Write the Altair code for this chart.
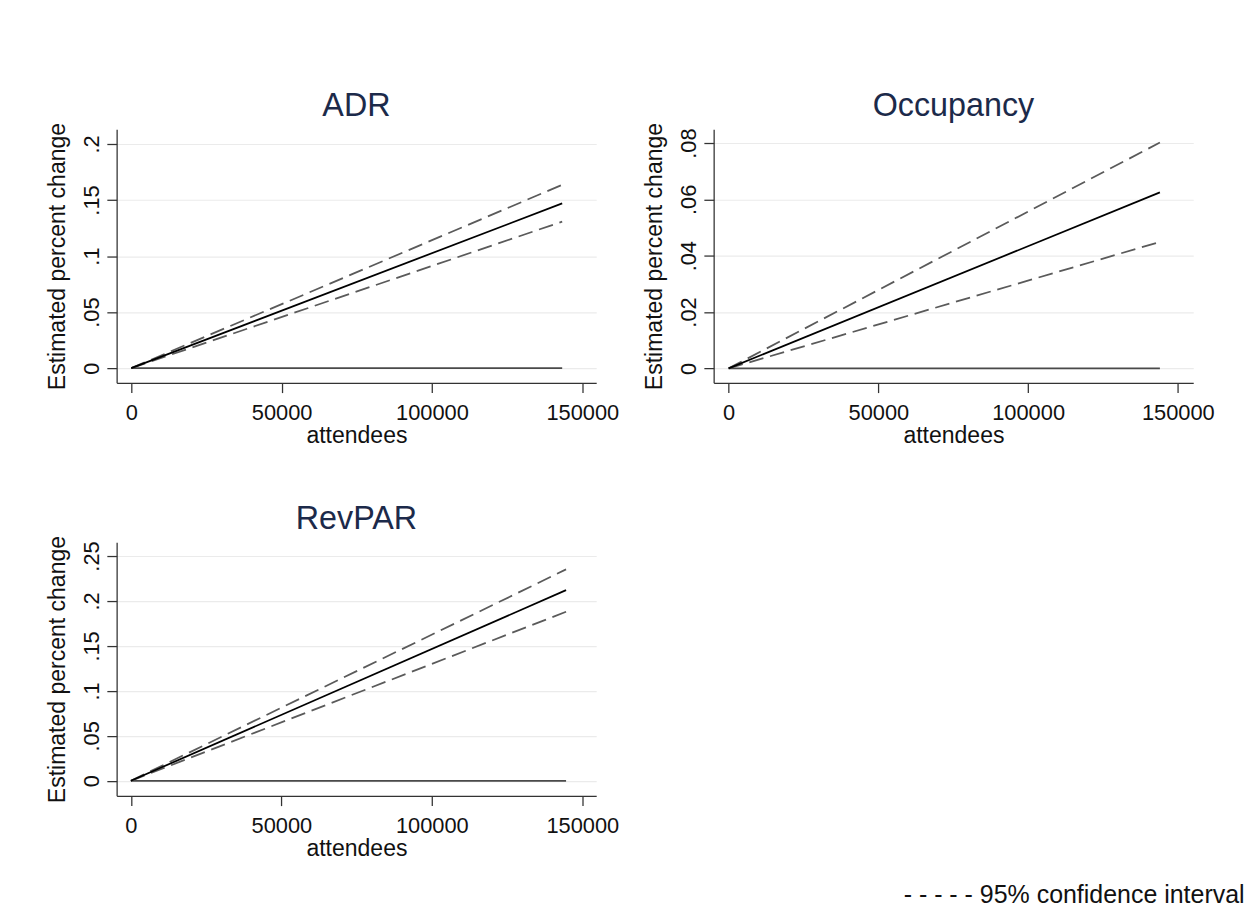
import altair as alt
import pandas as pd

# ---- data ----
panels = ["ADR", "Occupancy", "RevPAR"]
x_end = [143300, 144000, 144600]          # last attendees value of each line
estimate_end = [0.147, 0.0625, 0.212]     # estimated percent change at x_end
upper_end = [0.1636, 0.0802, 0.2351]      # upper 95% CI at x_end
lower_end = [0.1307, 0.0449, 0.188]       # lower 95% CI at x_end
x_ticks = [0, 50000, 100000, 150000]
y_ticks = {
    "ADR": [0, 0.05, 0.1, 0.15, 0.2],
    "Occupancy": [0, 0.02, 0.04, 0.06, 0.08],
    "RevPAR": [0, 0.05, 0.1, 0.15, 0.2, 0.25],
}
y_domain = {
    "ADR": [-0.0131, 0.2131],
    "Occupancy": [-0.00514, 0.0849],
    "RevPAR": [-0.0167, 0.2652],
}
x_domain = {
    "ADR": [-4870, 154617],
    "Occupancy": [-5008, 155133],
    "RevPAR": [-4742, 154617],
}

rows = []
for i, p in enumerate(panels):
    for s, yend in [("zero", 0.0), ("upper", upper_end[i]), ("lower", lower_end[i]), ("estimate", estimate_end[i])]:
        rows.append({"panel": p, "series": s, "x": 0, "y": 0.0})
        rows.append({"panel": p, "series": s, "x": x_end[i], "y": yend})
df = pd.DataFrame(rows)

FONT = "Liberation Sans"
TITLE_COLOR = "#1c2a4a"
LABEL_FS = 22.3
TITLE_FS = 23.5

label_expr = "datum.value == 0 ? '0' : replace(format(datum.value, '.3~f'), '0.', '.')"


def panel(name):
    base = alt.Chart(df[df.panel == name])
    x = alt.X(
        "x:Q",
        scale=alt.Scale(domain=x_domain[name], nice=False, zero=False),
        axis=alt.Axis(values=x_ticks, format="d", title="attendees", grid=False,
                      labelPadding=9, titlePadding=1),
    )
    y = alt.Y(
        "y:Q",
        scale=alt.Scale(domain=y_domain[name], nice=False, zero=False),
        axis=alt.Axis(values=y_ticks[name], title="Estimated percent change", grid=True,
                      labelExpr=label_expr, labelAngle=-90, labelAlign="center",
                      labelBaseline="bottom", labelPadding=4, titlePadding=11),
    )
    zero = base.transform_filter(alt.datum.series == "zero").mark_line(
        color="#4a4a4a", strokeWidth=1.8).encode(x=x, y=y)
    ci = base.transform_filter(
        (alt.datum.series == "upper") | (alt.datum.series == "lower")
    ).mark_line(color="#5a5a5a", strokeWidth=1.8, strokeDash=[15, 7]).encode(
        x=x, y=y, detail="series:N")
    est = base.transform_filter(alt.datum.series == "estimate").mark_line(
        color="#000000", strokeWidth=1.8).encode(x=x, y=y)
    return alt.layer(zero, ci, est).properties(
        width=490, height=259,
        title=alt.TitleParams(name, fontSize=33, font=FONT, fontWeight="normal",
                              color=TITLE_COLOR, offset=0),
    )


top_row = alt.hconcat(panel("ADR"), panel("Occupancy"), spacing=23)
chart = alt.vconcat(top_row, panel("RevPAR"), spacing=56).properties(
    padding={"left": 38, "top": 73, "right": 5, "bottom": 5},
    title=alt.TitleParams("- - - - - 95% confidence interval", orient="bottom", anchor="end",
                          fontSize=25.5, font=FONT, fontWeight="normal", color="#111111",
                          offset=24, dx=31),
).configure_view(stroke=None).configure_axis(
    domainColor="#333333", tickColor="#333333", tickSize=10, domainWidth=1.3, tickWidth=1.3,
    labelFont=FONT, labelFontSize=LABEL_FS, labelColor="#111111",
    titleFont=FONT, titleFontSize=TITLE_FS, titleFontWeight="normal", titleColor="#111111",
    gridColor="#ebebeb", gridWidth=1.2,
)

chart.save("out.html", embed_options={"renderer": "svg", "actions": False})
